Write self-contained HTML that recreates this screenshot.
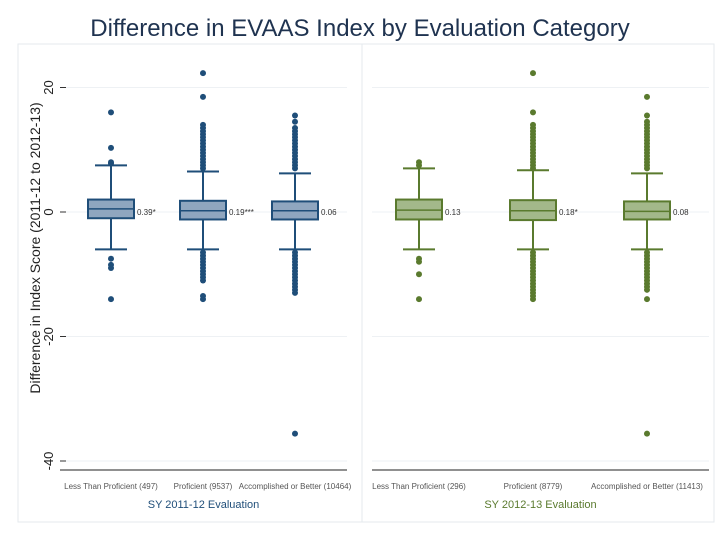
<!DOCTYPE html>
<html><head><meta charset="utf-8"><style>
body{margin:0;background:#fff;}
svg{display:block;font-family:"Liberation Sans",sans-serif;}
</style></head><body>
<svg id="chart" width="720" height="540">
<rect x="0" y="0" width="720" height="540" fill="#fff"/>
<rect x="18" y="44" width="344" height="478" fill="none" stroke="#e4eaee"/>
<rect x="362" y="44" width="352" height="478" fill="none" stroke="#e4eaee"/>
<text x="360" y="36" text-anchor="middle" font-size="24" fill="#1f3350">Difference in EVAAS Index by Evaluation Category</text>
<text transform="translate(40,248) rotate(-90)" text-anchor="middle" font-size="14" fill="#222">Difference in Index Score (2011-12 to 2012-13)</text>
<g id="plot"></g>
</svg>
<script>
const yTicks=[20,0,-20,-40];
const groups=["SY 2011-12 Evaluation","SY 2012-13 Evaluation"];
const categories=["Less Than Proficient (497)","Proficient (9537)","Accomplished or Better (10464)","Less Than Proficient (296)","Proficient (8779)","Accomplished or Better (11413)"];
const q1s=[-1.0,-1.2,-1.2,-1.2,-1.3,-1.2];
const medians=[0.5,0.2,0.2,0.3,0.2,0.1];
const q3s=[2.0,1.8,1.7,2.0,1.9,1.7];
const whiskLo=[-6.0,-6.0,-6.0,-6.0,-6.0,-6.0];
const whiskHi=[7.5,6.5,6.2,7.0,6.7,6.2];
const boxLabels=["0.39*","0.19***","0.06","0.13","0.18*","0.08"];
const outliers=[
 [16,10.3,8,7.8,-7.5,-8.5,-9,-14],
 [22.3,18.5,14,13.5,13,12.5,12,11.5,11,10.5,10,9.5,9,8.5,8,7.5,7,-6.5,-7,-7.5,-8,-8.5,-9,-9.5,-10,-10.5,-11,-13.5,-14],
 [15.5,14.5,13.5,13,12.5,12,11.5,11,10.5,10,9.5,9,8.5,8,7.5,7,-6.5,-7,-7.5,-8,-8.5,-9,-9.5,-10,-10.5,-11,-11.5,-12,-12.5,-13,-35.6],
 [8,7.5,-7.5,-8,-10,-14],
 [22.3,16,14,13.5,13,12.5,12,11.5,11,10.5,10,9.5,9,8.5,8,7.5,7,-6.5,-7,-7.5,-8,-8.5,-9,-9.5,-10,-10.5,-11,-11.5,-12,-12.5,-13,-13.5,-14],
 [18.5,15.5,14.5,14,13.5,13,12.5,12,11.5,11,10.5,10,9.5,9,8.5,8,7.5,7,-6.5,-7,-7.5,-8,-8.5,-9,-9.5,-10,-10.5,-11,-11.5,-12,-12.5,-14,-35.6]
];
const NS="http://www.w3.org/2000/svg";
const g=document.getElementById('plot');
function y(v){return 212-v*6.225;}
const panels=[{x0:65,x1:341,ax0:60,ax1:347,stroke:"#1f4e79",fill:"#8fa6bf",tc:"#1f4e79"},{x0:362,x1:704,ax0:372,ax1:709,stroke:"#5a7a2e",fill:"#a3b88a",tc:"#5a7a2e"}];
function xc(i){const p=panels[Math.floor(i/3)];const w=(p.x1-p.x0)/3;return p.x0+w*(i%3+0.5);}
function el(t,a){const e=document.createElementNS(NS,t);for(const k in a)e.setAttribute(k,a[k]);g.appendChild(e);return e;}
yTicks.forEach((t,k)=>{
 panels.forEach((p,pi)=>{
  const l=el('line',{x1:p.ax0,x2:p.ax1,y1:y(t),y2:y(t),stroke:'#eef1f4','stroke-width':1});
  
  
 });
 const tk=el('line',{x1:60,x2:66,y1:y(t),y2:y(t),stroke:'#333'});
 
 
 const tx=el('text',{transform:`translate(53,${y(t)}) rotate(-90)`,'text-anchor':'middle','font-size':13,fill:'#222'});
 tx.textContent=t;
 
 
});
panels.forEach((p,pi)=>{
 const ax=el('line',{x1:p.ax0,x2:p.ax1,y1:470,y2:470,stroke:'#222','stroke-width':1});
 
 
 const gt=el('text',{x:(p.ax0+p.ax1)/2,y:508,'text-anchor':'middle','font-size':11,fill:p.tc});
 gt.textContent=groups[pi];
 
 
});
categories.forEach((c,i)=>{
 const x=xc(i),p=panels[Math.floor(i/3)],bw=40;
 const w=el('line',{x1:x,x2:x,y1:y(whiskHi[i]),y2:y(whiskLo[i]),stroke:p.stroke,'stroke-width':2});
 
 
 [whiskHi[i],whiskLo[i]].forEach(v=>{
  const c2=el('line',{x1:x-16,x2:x+16,y1:y(v),y2:y(v),stroke:p.stroke,'stroke-width':2});
  
  
 });
 outliers[i].forEach(v=>{
  const o=el('circle',{cx:x,cy:y(v),r:3,fill:p.stroke});
  
  
 });
 const b=el('rect',{x:x-bw/2-3,y:y(q3s[i]),width:bw+6,height:y(q1s[i])-y(q3s[i]),fill:p.fill,stroke:p.stroke,'stroke-width':2});
 
 
 const m=el('line',{x1:x-bw/2-3,x2:x+bw/2+3,y1:y(medians[i]),y2:y(medians[i]),stroke:p.stroke,'stroke-width':1.5});
 
 
 const bl=el('text',{x:x+bw/2+6,y:y(0)+3,'font-size':8,fill:'#333'});
 bl.textContent=boxLabels[i];
 
 
 const cl=el('text',{x:x,y:489,'text-anchor':'middle','font-size':8,fill:'#555'});
 cl.textContent=c;
 
 
});
</script>
</body></html>
